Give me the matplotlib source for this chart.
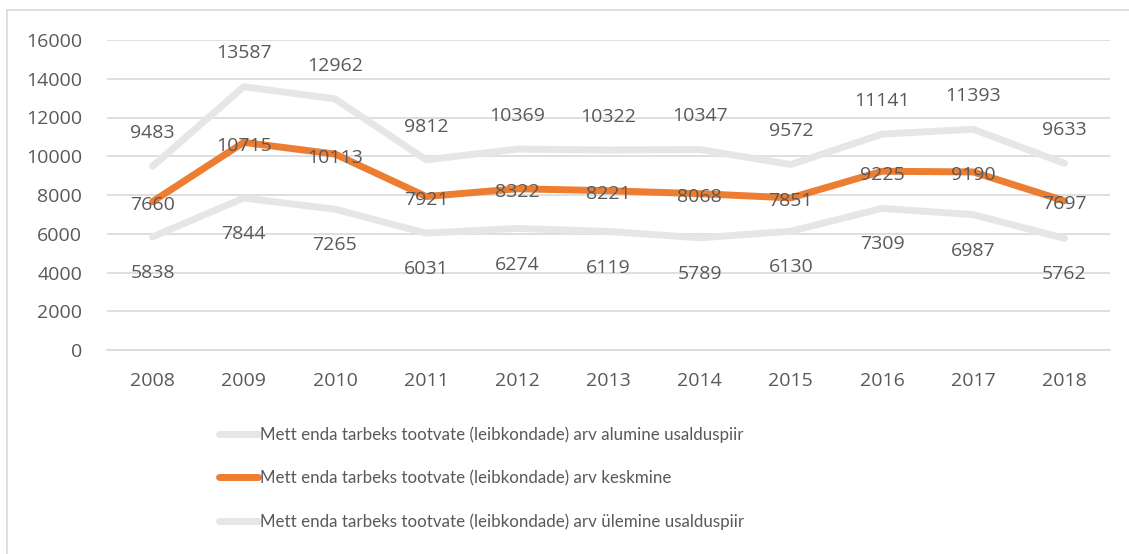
import matplotlib
matplotlib.use("Agg")
import matplotlib.pyplot as plt
from matplotlib.lines import Line2D

YEARS = ["2008", "2009", "2010", "2011", "2012", "2013", "2014", "2015", "2016", "2017", "2018"]
UPPER = [9483, 13587, 12962, 9812, 10369, 10322, 10347, 9572, 11141, 11393, 9633]
MEAN = [7660, 10715, 10113, 7921, 8322, 8221, 8068, 7851, 9225, 9190, 7697]
LOWER = [5838, 7844, 7265, 6031, 6274, 6119, 5789, 6130, 7309, 6987, 5762]
Y_TICKS = [0, 2000, 4000, 6000, 8000, 10000, 12000, 14000, 16000]

LABELS = [
    "Mett enda tarbeks tootvate (leibkondade) arv alumine usalduspiir",
    "Mett enda tarbeks tootvate (leibkondade) arv keskmine",
    "Mett enda tarbeks tootvate (leibkondade) arv ülemine usalduspiir",
]

GREY = "#e6e6e6"
ORANGE = "#ed7d31"
TEXT = "#595959"
GRID = "#d9d9d9"

plt.rcParams["font.family"] = ["Open Sans", "DejaVu Sans"]
FS = 14

W, H = 1129, 554
fig = plt.figure(figsize=(W / 100, H / 100), dpi=100)
ax = fig.add_axes([107 / W, (H - 350) / H, (1110 - 107) / W, 310 / H])

x = list(range(len(YEARS)))
h_low, = ax.plot(x, LOWER, color=GREY, lw=5, solid_capstyle="round", zorder=2)
h_up, = ax.plot(x, UPPER, color=GREY, lw=5, solid_capstyle="round", zorder=2)
h_mean, = ax.plot(x, MEAN, color=ORANGE, lw=5, solid_capstyle="round", zorder=3)

for xi, v in zip(x, UPPER):
    ax.annotate(str(v), (xi, v), textcoords="offset points", xytext=(0, 24),
                ha="center", va="center", fontsize=FS, color=TEXT, zorder=4)
for xi, v in zip(x, MEAN):
    ax.annotate(str(v), (xi, v), textcoords="offset points", xytext=(0, -2.5),
                ha="center", va="center", fontsize=FS, color=TEXT, zorder=4)
for xi, v in zip(x, LOWER):
    ax.annotate(str(v), (xi, v), textcoords="offset points", xytext=(0, -26),
                ha="center", va="center", fontsize=FS, color=TEXT, zorder=4)

ax.set_xlim(-0.5, len(YEARS) - 0.5)
ax.set_ylim(0, 16000)
ax.set_yticks(Y_TICKS)
ax.set_yticklabels([str(t) for t in Y_TICKS])
ax.set_xticks(x)
ax.set_xticklabels(YEARS)
ax.tick_params(axis="both", length=0, labelsize=FS, labelcolor=TEXT)
ax.tick_params(axis="y", pad=18)
ax.tick_params(axis="x", pad=16)
ax.grid(axis="y", color=GRID, lw=1.2, zorder=1)
ax.set_axisbelow(True)
for s in ax.spines.values():
    s.set_visible(False)
ax.spines["bottom"].set_visible(True)
ax.spines["bottom"].set_color(GRID)
ax.spines["bottom"].set_linewidth(1.2)

leg = fig.legend([h_low, h_mean, h_up], LABELS, loc="upper left",
                 bbox_to_anchor=(204 / W, (H - 411) / H), frameon=False,
                 prop={"family": ["Lato", "DejaVu Sans"], "size": 12.2},
                 labelcolor=TEXT, handlelength=2.3, handletextpad=0.1,
                 labelspacing=1.6)

# chart border (clipped at right and bottom like the reference)
fig.add_artist(Line2D([7 / W, 7 / W], [0, (H - 10) / H], color=GRID, lw=1.2))
fig.add_artist(Line2D([7 / W, 1], [(H - 10) / H, (H - 10) / H], color=GRID, lw=1.2))

fig.savefig("out.png", dpi=100)
